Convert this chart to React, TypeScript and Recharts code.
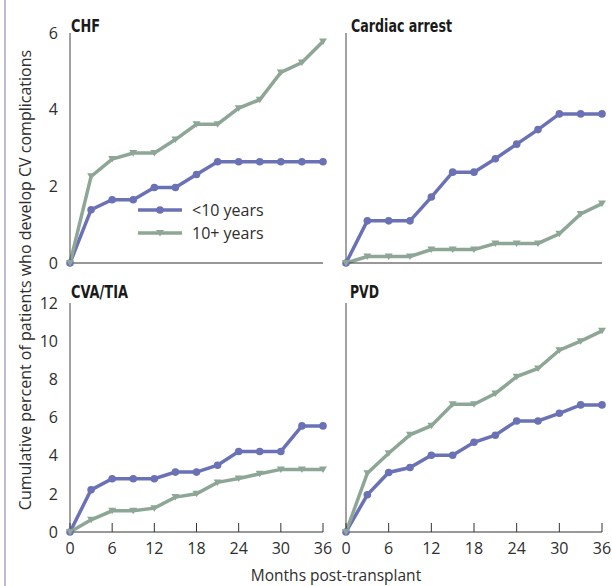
import React from 'react';
import { LineChart, Line, XAxis, YAxis } from 'recharts';

// Follow-up months (x values) and axis ticks
const months = [0, 3, 6, 9, 12, 15, 18, 21, 24, 27, 30, 33, 36];
const monthTicks = [0, 6, 12, 18, 24, 30, 36];
const topTicks = [0, 2, 4, 6];
const bottomTicks = [0, 2, 4, 6, 8, 10, 12];

// Cumulative percent per complication, by dialysis vintage group
const chfUnder10 = [0, 1.39, 1.65, 1.65, 1.97, 1.97, 2.31, 2.64, 2.64, 2.64, 2.64, 2.64, 2.64];
const chfOver10 = [0, 2.26, 2.71, 2.87, 2.87, 3.22, 3.62, 3.62, 4.04, 4.26, 4.97, 5.23, 5.78];
const arrestUnder10 = [0, 1.1, 1.1, 1.1, 1.72, 2.37, 2.37, 2.72, 3.1, 3.48, 3.89, 3.89, 3.89];
const arrestOver10 = [0, 0.17, 0.17, 0.17, 0.35, 0.35, 0.35, 0.51, 0.51, 0.51, 0.76, 1.28, 1.55];
const cvaUnder10 = [0, 2.21, 2.79, 2.79, 2.79, 3.14, 3.14, 3.5, 4.22, 4.22, 4.22, 5.56, 5.56];
const cvaOver10 = [0, 0.64, 1.11, 1.11, 1.25, 1.83, 2.0, 2.6, 2.8, 3.05, 3.28, 3.28, 3.28];
const pvdUnder10 = [0, 1.95, 3.12, 3.38, 4.02, 4.02, 4.7, 5.07, 5.82, 5.82, 6.22, 6.66, 6.66];
const pvdOver10 = [0, 3.08, 4.13, 5.09, 5.57, 6.69, 6.69, 7.26, 8.14, 8.57, 9.53, 10.0, 10.54];

const seriesNames = ['<10 years', '10+ years'];
const panelTitles = ['CHF', 'Cardiac arrest', 'CVA/TIA', 'PVD'];

const BLUE = '#6b71b5';
const GREEN = '#8da696';
const TEXT = '#2e2e2e';
const FONT = "'Open Sans', 'Noto Sans', sans-serif";
const TITLE_FONT = "'Liberation Sans Narrow', 'DejaVu Sans Condensed', sans-serif";

const buildRows = (under: number[], over: number[]) =>
  months.map((m, i) => ({ month: m, under: under[i], over: over[i] }));

const TriangleDot = (props: any) => {
  const { cx, cy, index } = props;
  if (cx == null || cy == null) return <g key={index} />;
  return (
    <polygon
      key={index}
      points={`${cx - 4},${cy - 3} ${cx + 4},${cy - 3} ${cx},${cy + 3.5}`}
      fill={GREEN}
    />
  );
};

type PanelProps = {
  under: number[];
  over: number[];
  plot: { x: number; y: number; w: number; h: number };
  yMax: number;
  yTicks: number[];
  showYLabels: boolean;
  showXLabels: boolean;
};

const ML = 60;
const MT = 20;
const MR = 15;
const XH = 40;

const Panel = ({ under, over, plot, yMax, yTicks, showYLabels, showXLabels }: PanelProps) => {
  const data = buildRows(under, over);
  const width = plot.w + ML + MR;
  const height = plot.h + MT + XH;
  return (
    <div style={{ position: 'absolute', left: plot.x - ML, top: plot.y - MT, width, height }}>
      <LineChart
        width={width}
        height={height}
        data={data}
        margin={{ top: MT, right: MR, bottom: 0, left: 0 }}
      >
        <XAxis
          dataKey="month"
          type="number"
          domain={[0, 36]}
          ticks={monthTicks}
          height={XH}
          axisLine={{ stroke: '#333', strokeWidth: 1 }}
          tickLine={{ stroke: '#333', strokeWidth: 1 }}
          tickSize={-9}
          tickMargin={20}
          tick={showXLabels ? { fill: TEXT, fontSize: 16, fontFamily: FONT } : false}
          interval={0}
        />
        <YAxis
          type="number"
          domain={[0, yMax]}
          ticks={yTicks}
          width={ML}
          axisLine={{ stroke: '#444', strokeWidth: 1 }}
          tickLine={false}
          tickSize={6}
          tickMargin={6}
          tick={showYLabels ? { fill: TEXT, fontSize: 16, fontFamily: FONT } : false}
          interval={0}
        />
        <Line
          dataKey="under"
          type="linear"
          stroke={BLUE}
          strokeWidth={3.5}
          dot={{ r: 3.8, fill: BLUE, stroke: BLUE, strokeWidth: 0 }}
          isAnimationActive={false}
        />
        <Line
          dataKey="over"
          type="linear"
          stroke={GREEN}
          strokeWidth={3.5}
          dot={TriangleDot}
          isAnimationActive={false}
        />
      </LineChart>
    </div>
  );
};

const LegendRow = ({ color, label, marker }: { color: string; label: string; marker: 'circle' | 'triangle' }) => (
  <div style={{ display: 'flex', alignItems: 'center', height: 23 }}>
    <svg width={54} height={12} style={{ display: 'block' }}>
      <line x1={0} y1={6} x2={44} y2={6} stroke={color} strokeWidth={3.5} />
      {marker === 'circle' ? (
        <circle cx={22} cy={6} r={3.8} fill={color} />
      ) : (
        <polygon points="18,3 26,3 22,9.5" fill={color} />
      )}
    </svg>
    <span style={{ fontFamily: FONT, fontSize: 16, color: TEXT, lineHeight: '16px' }}>{label}</span>
  </div>
);

export default function App() {
  return (
    <div
      style={{
        position: 'absolute',
        left: 0,
        top: 0,
        width: 612,
        height: 586,
        background: '#fff',
        overflow: 'hidden',
      }}
    >
      <Panel
        under={chfUnder10}
        over={chfOver10}
        plot={{ x: 70, y: 33, w: 253, h: 230 }}
        yMax={6}
        yTicks={topTicks}
        showYLabels
        showXLabels={false}
      />
      <Panel
        under={arrestUnder10}
        over={arrestOver10}
        plot={{ x: 346, y: 33, w: 256, h: 230 }}
        yMax={6}
        yTicks={topTicks}
        showYLabels={false}
        showXLabels={false}
      />
      <Panel
        under={cvaUnder10}
        over={cvaOver10}
        plot={{ x: 70, y: 303, w: 253, h: 229 }}
        yMax={12}
        yTicks={bottomTicks}
        showYLabels
        showXLabels
      />
      <Panel
        under={pvdUnder10}
        over={pvdOver10}
        plot={{ x: 346, y: 303, w: 256, h: 229 }}
        yMax={12}
        yTicks={bottomTicks}
        showYLabels={false}
        showXLabels
      />

      <svg
        width={612}
        height={586}
        style={{ position: 'absolute', left: 0, top: 0, pointerEvents: 'none' }}
      >
        <line x1={5} y1={0} x2={5} y2={586} stroke="#a3a5cf" strokeWidth={1.5} />
        <g fontFamily={TITLE_FONT} fontWeight="bold" fontSize={17} fill="#1a1a1a">
          <text x={71} y={32} textLength={29} lengthAdjust="spacingAndGlyphs">{panelTitles[0]}</text>
          <text x={351} y={32} textLength={101} lengthAdjust="spacingAndGlyphs">{panelTitles[1]}</text>
          <text x={71} y={298} textLength={57} lengthAdjust="spacingAndGlyphs">{panelTitles[2]}</text>
          <text x={350} y={298} textLength={29} lengthAdjust="spacingAndGlyphs">{panelTitles[3]}</text>
        </g>
        <text
          x={31}
          y={280}
          transform="rotate(-90 31 280)"
          textAnchor="middle"
          fontFamily={FONT}
          fontSize={16}
          fill={TEXT}
        >
          Cumulative percent of patients who develop CV complications
        </text>
        <text x={336} y={581} textAnchor="middle" fontFamily={FONT} fontSize={15.5} fill={TEXT}>
          Months post-transplant
        </text>
      </svg>

      <div style={{ position: 'absolute', left: 138, top: 198.5 }}>
        <LegendRow color={BLUE} label={seriesNames[0]} marker="circle" />
        <LegendRow color={GREEN} label={seriesNames[1]} marker="triangle" />
      </div>
    </div>
  );
}
